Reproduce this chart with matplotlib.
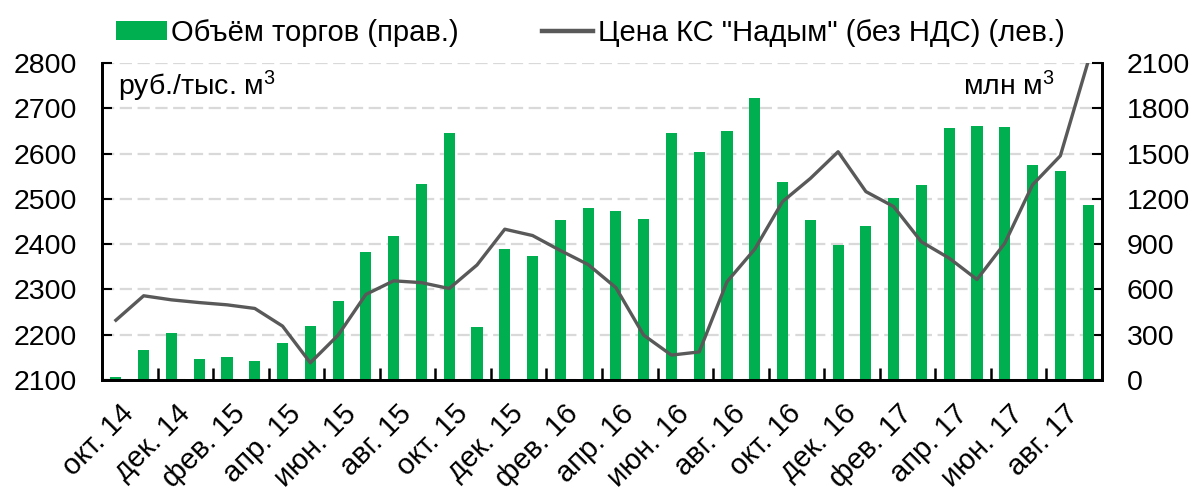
import numpy as np
import matplotlib
matplotlib.use("Agg")
import matplotlib.pyplot as plt
import matplotlib.transforms as mtransforms
from matplotlib.patches import Patch
from matplotlib.lines import Line2D

plt.rcParams['font.family'] = ['Liberation Sans', 'DejaVu Sans']
plt.rcParams['mathtext.fontset'] = 'custom'
plt.rcParams['mathtext.rm'] = 'Liberation Sans'
plt.rcParams['mathtext.it'] = 'Liberation Sans'
plt.rcParams['mathtext.default'] = 'regular'

# monthly data, Oct 2014 - Sep 2017
months = ["окт. 14", "ноя. 14", "дек. 14", "янв. 15", "фев. 15", "мар. 15",
          "апр. 15", "май. 15", "июн. 15", "июл. 15", "авг. 15", "сен. 15",
          "окт. 15", "ноя. 15", "дек. 15", "янв. 16", "фев. 16", "мар. 16",
          "апр. 16", "май. 16", "июн. 16", "июл. 16", "авг. 16", "сен. 16",
          "окт. 16", "ноя. 16", "дек. 16", "янв. 17", "фев. 17", "мар. 17",
          "апр. 17", "май. 17", "июн. 17", "июл. 17", "авг. 17", "сен. 17"]

# trading volume, mln m3 (right axis)
volume = [20, 200, 314, 137, 155, 128, 243, 358, 526, 850, 956, 1298,
          1634, 349, 868, 824, 1060, 1140, 1122, 1069, 1634, 1510, 1650, 1870,
          1314, 1060, 894, 1018, 1204, 1290, 1667, 1685, 1676, 1422, 1387, 1157]

# price at Nadym, rub / th. m3 excl. VAT (left axis)
price = [2232, 2286, 2277, 2271, 2266, 2258, 2219, 2138, 2199, 2289, 2319, 2315,
         2302, 2354, 2433, 2419, 2386, 2355, 2304, 2199, 2155, 2162, 2317, 2389,
         2494, 2545, 2604, 2516, 2483, 2405, 2369, 2322, 2402, 2531, 2595, 2803]

green = "#00B050"
grey = "#595959"
fs = 20.5

fig = plt.figure(figsize=(11.97, 5.0), dpi=100)
ax = fig.add_axes([102 / 1197, 1 - 380 / 500, 1000 / 1197, 317 / 500])
ax2 = ax.twinx()

x = np.arange(len(months))

# bars on the right axis, line on the left axis drawn above them
ax2.bar(x, volume, width=0.4, color=green, zorder=2)
ax2.set_ylim(0, 2100)
ax2.set_yticks(np.arange(0, 2101, 300))

ax.set_zorder(ax2.get_zorder() + 1)
ax.patch.set_visible(False)
ax.plot(x, price, color=grey, lw=2.4, zorder=3)
ax.set_ylim(2100, 2800)
ax.set_yticks(np.arange(2100, 2801, 100))
ax.set_xlim(-0.5, len(months) - 0.5)

# dashed grid drawn under bars
ax2.yaxis.grid(True, color="#D9D9D9", linestyle=(0, (5.5, 2.5)), lw=1.6, zorder=0)
ax2.set_axisbelow(True)

# ticks at every second boundary, labels every second month
ax.set_xticks(np.arange(1.5, len(months) - 1, 2))
ax.set_xticks(np.arange(0, len(months), 2), minor=True)
ax.set_xticklabels([])
ax.set_xticklabels(months[::2], minor=True, rotation=45, ha="right",
                   rotation_mode="anchor", fontsize=21)
ax.tick_params(axis="x", which="major", direction="in", length=9, width=1.8, color="black")
ax.tick_params(axis="x", which="minor", length=0, pad=14)
shift = mtransforms.ScaledTranslation(4 / 100, 0, fig.dpi_scale_trans)
for lbl in ax.get_xticklabels(minor=True):
    lbl.set_transform(lbl.get_transform() + shift)

ax.tick_params(axis="y", direction="in", length=7, width=1.5, labelsize=fs, pad=18)
ax2.tick_params(axis="y", direction="in", length=7, width=1.5, labelsize=fs, pad=18)
ax2.tick_params(axis="x", length=0)

for a in (ax, ax2):
    a.spines["top"].set_visible(False)
    for s in ("left", "right", "bottom"):
        a.spines[s].set_linewidth(2)
        a.spines[s].set_color("black")

ax.text(0.016, 0.925, "руб./тыс. м$^3$", transform=ax.transAxes, fontsize=fs,
        ha="left", va="center")
ax.text(0.953, 0.925, "млн м$^3$", transform=ax.transAxes, fontsize=fs,
        ha="right", va="center")

handles = [Patch(facecolor=green, edgecolor="none"),
           Line2D([0], [0], color=grey, lw=3.2)]
labels = ["Объём торгов (прав.)", 'Цена КС "Надым" (без НДС) (лев.)']
fig.legend(handles, labels, loc="upper left", bbox_to_anchor=(0.075, 1.015),
           ncol=2, frameon=False, fontsize=21, handlelength=1.75, handleheight=0.6,
           handletextpad=0.15, columnspacing=2.85)

fig.savefig("out.png", dpi=100)
